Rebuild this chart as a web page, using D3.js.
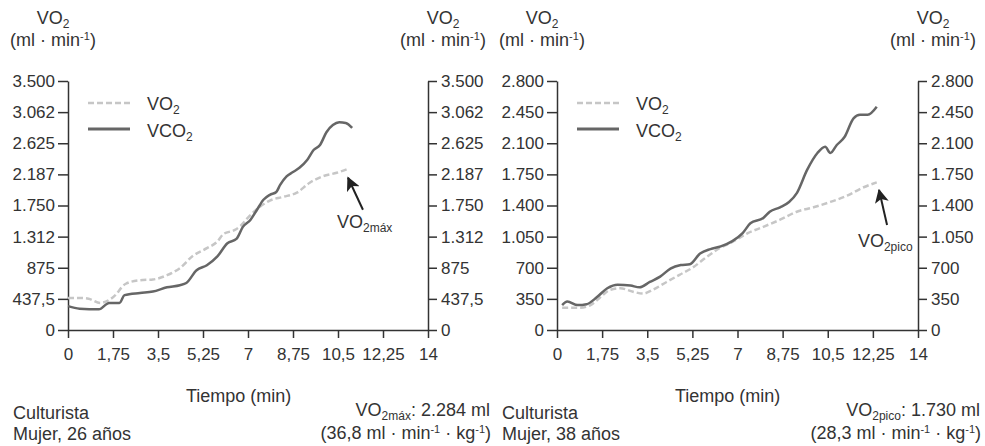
<!DOCTYPE html>
<html>
<head>
<meta charset="utf-8">
<script src="https://cdn.jsdelivr.net/npm/d3@7/dist/d3.min.js"></script>
<style>
  body { margin: 0; background: #fff; }
  svg { font-family: 'Liberation Sans', Arial, sans-serif; fill: #333; }
  .axis path, .axis line { stroke: #333; stroke-width: 1.5; }
  .axis text { font-size: 17px; fill: #333; font-family: 'Liberation Sans', Arial, sans-serif; }
</style>
</head>
<body>
<div id="chart"></div>
<script>
// x axis (minutes)
var timeTicks = [0, 1.75, 3.5, 5.25, 7, 8.75, 10.5, 12.25, 14];
var timeLabels = ['0', '1,75', '3,5', '5,25', '7', '8,75', '10,5', '12,25', '14'];

// panel A: culturista, mujer 26
var yTicksA = [0, 437.5, 875, 1312.5, 1750, 2187.5, 2625, 3062.5, 3500];
var yLabelsA = ['0', '437,5', '875', '1.312', '1.750', '2.187', '2.625', '3.062', '3.500'];
var vo2TimeA = [0, 0.5, 0.8, 1.25, 1.75, 2.25, 2.8, 3.3, 3.85, 4.35, 4.85, 5.4, 5.8, 6.05, 6.45, 6.7, 7.0, 7.35, 7.85, 8.35, 8.9, 9.4, 9.9, 10.45, 10.85];
var vo2ValA = [450, 450, 440, 380, 460, 650, 700, 710, 770, 870, 1040, 1150, 1240, 1350, 1400, 1460, 1580, 1700, 1820, 1870, 1930, 2070, 2160, 2210, 2260];
var vco2TimeA = [0, 0.45, 1.2, 1.6, 2.0, 2.2, 2.8, 3.3, 3.85, 4.35, 4.6, 5.0, 5.4, 5.8, 6.2, 6.55, 6.8, 7.1, 7.35, 7.6, 7.85, 8.1, 8.25, 8.5, 8.75, 9.0, 9.3, 9.55, 9.8, 10.05, 10.3, 10.55, 10.8, 11.05];
var vco2ValA = [335, 300, 290, 380, 380, 490, 520, 540, 600, 630, 660, 840, 910, 1030, 1220, 1280, 1450, 1550, 1690, 1830, 1900, 1940, 2040, 2160, 2220, 2280, 2390, 2530, 2600, 2780, 2880, 2920, 2910, 2840];

// panel B: culturista, mujer 38
var yTicksB = [0, 350, 700, 1050, 1400, 1750, 2100, 2450, 2800];
var yLabelsB = ['0', '350', '700', '1.050', '1.400', '1.750', '2.100', '2.450', '2.800'];
var vo2TimeB = [0.2, 0.9, 1.3, 1.65, 2.05, 2.45, 2.95, 3.35, 3.7, 4.25, 4.75, 5.25, 5.8, 6.3, 6.8, 7.4, 8.0, 8.65, 9.3, 9.95, 10.6, 11.25, 11.85, 12.4];
var vo2ValB = [250, 250, 280, 360, 450, 470, 430, 410, 450, 540, 620, 700, 820, 920, 990, 1090, 1160, 1240, 1330, 1380, 1440, 1510, 1600, 1660];
var vco2TimeB = [0.2, 0.4, 0.8, 1.15, 1.55, 1.95, 2.35, 2.85, 3.2, 3.6, 4.0, 4.4, 4.8, 5.15, 5.55, 5.95, 6.35, 6.8, 7.2, 7.5, 8.0, 8.25, 8.65, 9.0, 9.3, 9.7, 10.1, 10.4, 10.6, 10.85, 11.15, 11.5, 11.75, 12.05, 12.4];
var vco2ValB = [280, 320, 280, 290, 370, 470, 510, 500, 480, 540, 600, 690, 730, 740, 860, 910, 940, 1000, 1090, 1200, 1260, 1330, 1380, 1440, 1540, 1800, 1990, 2060, 1990, 2080, 2170, 2380, 2420, 2420, 2510];

var width = 985;
var height = 446;
var top0 = 81;
var bottom0 = 330;

var svg = d3.select('#chart').append('svg')
    .attr('width', width)
    .attr('height', height);

svg.append('defs').append('marker')
    .attr('id', 'arrow')
    .attr('viewBox', '0 0 10 10')
    .attr('refX', 9)
    .attr('refY', 5)
    .attr('markerWidth', 7)
    .attr('markerHeight', 7)
    .attr('markerUnits', 'strokeWidth')
    .attr('orient', 'auto')
    .append('path')
    .attr('d', 'M0,0L10,5L0,10L2.5,5Z')
    .attr('fill', '#222');

// text with sub/superscripts: parts = [[text, 'sub'|'sup'|undefined], ...]
function richText(x, y, parts, anchor, size) {
    var t = svg.append('text')
        .attr('x', x)
        .attr('y', y)
        .attr('text-anchor', anchor || 'start')
        .attr('font-size', size || 18)
        .attr('fill', '#333');
    var shift = 0;
    parts.forEach(p => {
        var s = t.append('tspan').text(p[0]);
        var target = 0;
        if (p[1] === 'sub') { target = 4; s.attr('font-size', 12); }
        if (p[1] === 'sup') { target = -6; s.attr('font-size', 11); }
        s.attr('dy', target - shift);
        shift = target;
    });
    return t;
}

function drawPanel(cfg) {
    var x = d3.scaleLinear().domain([0, 14]).range([cfg.left, cfg.right]);
    var y = d3.scaleLinear().domain([0, cfg.yMax]).range([bottom0, top0]);

    svg.append('g')
        .attr('class', 'axis')
        .attr('transform', `translate(0,${bottom0})`)
        .call(d3.axisBottom(x).tickValues(timeTicks)
            .tickFormat((d, i) => timeLabels[i])
            .tickSize(8).tickSizeOuter(0).tickPadding(10));

    svg.append('g')
        .attr('class', 'axis')
        .attr('transform', `translate(${cfg.left},0)`)
        .call(d3.axisLeft(y).tickValues(cfg.yTicks)
            .tickFormat((d, i) => cfg.yLabels[i])
            .tickSize(10).tickSizeOuter(0).tickPadding(3));

    svg.append('g')
        .attr('class', 'axis')
        .attr('transform', `translate(${cfg.right},0)`)
        .call(d3.axisRight(y).tickValues(cfg.yTicks)
            .tickFormat((d, i) => cfg.yLabels[i])
            .tickSize(9).tickSizeOuter(0).tickPadding(4));

    var line = d3.line()
        .x(d => x(d[0]))
        .y(d => y(d[1]))
        .curve(d3.curveMonotoneX);

    svg.append('path')
        .datum(d3.zip(cfg.vo2Time, cfg.vo2Val))
        .attr('d', line)
        .attr('fill', 'none')
        .attr('stroke', '#c6c6c6')
        .attr('stroke-width', 2.5)
        .attr('stroke-dasharray', '6,3');

    svg.append('path')
        .datum(d3.zip(cfg.vco2Time, cfg.vco2Val))
        .attr('d', line)
        .attr('fill', 'none')
        .attr('stroke', '#666')
        .attr('stroke-width', 2.5);

    // legend
    var lx = cfg.left + 20;
    svg.append('line')
        .attr('x1', lx).attr('x2', lx + 42)
        .attr('y1', 103).attr('y2', 103)
        .attr('stroke', '#c6c6c6').attr('stroke-width', 2.5)
        .attr('stroke-dasharray', '6,3');
    svg.append('line')
        .attr('x1', lx).attr('x2', lx + 42)
        .attr('y1', 129).attr('y2', 129)
        .attr('stroke', '#666').attr('stroke-width', 3);
    richText(lx + 59, 110, [['VO'], ['2', 'sub']]);
    richText(lx + 59, 137, [['VCO'], ['2', 'sub']]);

    // axis titles
    [cfg.left - 15, cfg.right + 15].forEach(cx => {
        richText(cx, 24, [['VO'], ['2', 'sub']], 'middle');
        richText(cx, 46, [['(ml · min'], ['-1', 'sup'], [')']], 'middle');
    });

    // peak annotation
    svg.append('line')
        .attr('x1', x(cfg.arrowFrom[0])).attr('y1', y(cfg.arrowFrom[1]))
        .attr('x2', x(cfg.arrowTo[0])).attr('y2', y(cfg.arrowTo[1]))
        .attr('stroke', '#222').attr('stroke-width', 2)
        .attr('marker-end', 'url(#arrow)');
    richText(x(cfg.noteAt[0]), y(cfg.noteAt[1]), [['VO'], [cfg.peakSub, 'sub']]);

    // captions
    richText(cfg.left + 118, 402, [['Tiempo (min)']]);
    richText(cfg.left - 55, 419, [['Culturista']]);
    richText(cfg.left - 55, 440, [[cfg.who]]);
    richText(cfg.right + 62, 416, [['VO'], [cfg.peakSub, 'sub'], [cfg.peakText]], 'end');
    richText(cfg.right + 63, 439, cfg.peakRel, 'end');
}

drawPanel({
    left: 68, right: 428, yMax: 3500,
    yTicks: yTicksA, yLabels: yLabelsA,
    vo2Time: vo2TimeA, vo2Val: vo2ValA,
    vco2Time: vco2TimeA, vco2Val: vco2ValA,
    arrowFrom: [11.47, 1690], arrowTo: [10.89, 2140],
    noteAt: [10.46, 1434],
    peakSub: '2máx', peakText: ': 2.284 ml',
    peakRel: [['(36,8 ml · min'], ['-1', 'sup'], [' · kg'], ['-1', 'sup'], [')']],
    who: 'Mujer, 26 años'
});

drawPanel({
    left: 557, right: 918, yMax: 2800,
    yTicks: yTicksB, yLabels: yLabelsB,
    vo2Time: vo2TimeB, vo2Val: vo2ValB,
    vco2Time: vco2TimeB, vco2Val: vco2ValB,
    arrowFrom: [12.8, 1180], arrowTo: [12.49, 1574],
    noteAt: [11.67, 933],
    peakSub: '2pico', peakText: ': 1.730 ml',
    peakRel: [['(28,3  ml · min'], ['-1', 'sup'], [' · kg'], ['-1', 'sup'], [')']],
    who: 'Mujer, 38 años'
});
</script>
</body>
</html>
